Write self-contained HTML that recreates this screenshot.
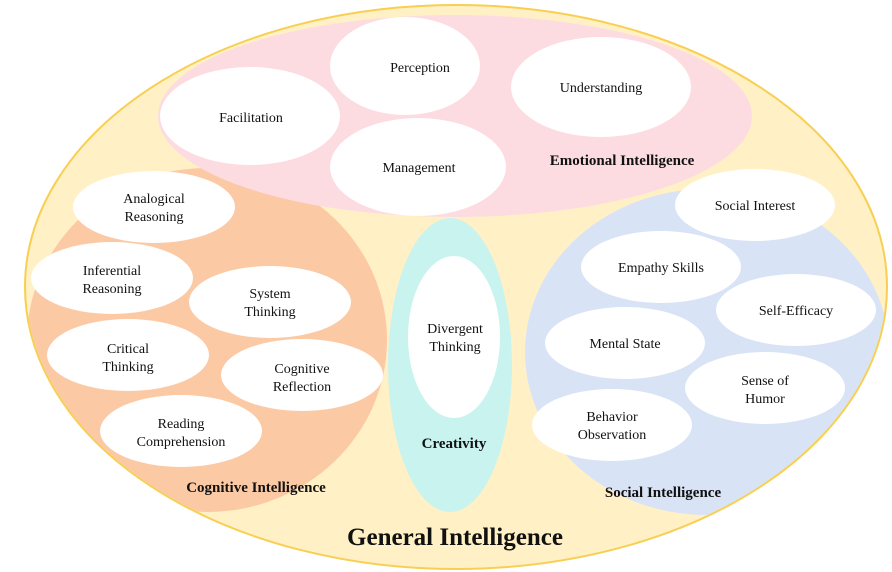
<!DOCTYPE html>
<html><head><meta charset="utf-8"><style>
html,body{margin:0;padding:0;background:#fff;}
svg{display:block;}
text{font-family:"Liberation Serif",serif;fill:#111;text-anchor:middle;}
.t{font-size:14px;}
.b{font-size:15px;font-weight:bold;}
</style></head><body>
<svg width="892" height="572" viewBox="0 0 892 572">
<defs><clipPath id="c"><ellipse cx="456" cy="287" rx="430" ry="281"/></clipPath></defs>
<ellipse cx="456" cy="287" rx="431" ry="282" fill="#fff0c6" stroke="#f8cf52" stroke-width="2"/>
<g clip-path="url(#c)">
<ellipse cx="207" cy="340" rx="180" ry="172" fill="#fbc9a4"/>
<ellipse cx="707" cy="352" rx="182" ry="163" fill="#d9e3f6"/>
</g>
<ellipse cx="455" cy="116" rx="297" ry="101" fill="#fddce1"/>
<ellipse cx="450" cy="365" rx="62" ry="147" fill="#c9f3ef"/>
<ellipse cx="454" cy="337" rx="46" ry="81" fill="#fff"/>
<g fill="#fff">
<ellipse cx="405" cy="66" rx="75" ry="49"/>
<ellipse cx="250" cy="116" rx="90" ry="49"/>
<ellipse cx="418" cy="167" rx="88" ry="49"/>
<ellipse cx="601" cy="87" rx="90" ry="50"/>
<ellipse cx="154" cy="207" rx="81" ry="36"/>
<ellipse cx="112" cy="278" rx="81" ry="36"/>
<ellipse cx="270" cy="302" rx="81" ry="36"/>
<ellipse cx="128" cy="355" rx="81" ry="36"/>
<ellipse cx="302" cy="375" rx="81" ry="36"/>
<ellipse cx="181" cy="431" rx="81" ry="36"/>
<ellipse cx="755" cy="205" rx="80" ry="36"/>
<ellipse cx="661" cy="267" rx="80" ry="36"/>
<ellipse cx="796" cy="310" rx="80" ry="36"/>
<ellipse cx="625" cy="343" rx="80" ry="36"/>
<ellipse cx="765" cy="388" rx="80" ry="36"/>
<ellipse cx="612" cy="425" rx="80" ry="36"/>
</g>
<g class="t">
<text class="t" x="420" y="72">Perception</text>
<text class="t" x="251" y="122">Facilitation</text>
<text class="t" x="419" y="172">Management</text>
<text class="t" x="601" y="92">Understanding</text>
<text class="t" x="154" y="203">Analogical</text><text class="t" x="154" y="221">Reasoning</text>
<text class="t" x="112" y="275">Inferential</text><text class="t" x="112" y="293">Reasoning</text>
<text class="t" x="270" y="298">System</text><text class="t" x="270" y="316">Thinking</text>
<text class="t" x="128" y="353">Critical</text><text class="t" x="128" y="371">Thinking</text>
<text class="t" x="302" y="373">Cognitive</text><text class="t" x="302" y="391">Reflection</text>
<text class="t" x="181" y="428">Reading</text><text class="t" x="181" y="446">Comprehension</text>
<text class="t" x="455" y="333">Divergent</text><text class="t" x="455" y="351">Thinking</text>
<text class="t" x="755" y="210">Social Interest</text>
<text class="t" x="661" y="272">Empathy Skills</text>
<text class="t" x="796" y="315">Self-Efficacy</text>
<text class="t" x="625" y="348">Mental State</text>
<text class="t" x="765" y="385">Sense of</text><text class="t" x="765" y="403">Humor</text>
<text class="t" x="612" y="421">Behavior</text><text class="t" x="612" y="439">Observation</text>
</g>
<text class="b" x="622" y="165">Emotional Intelligence</text>
<text class="b" x="256" y="492">Cognitive Intelligence</text>
<text class="b" x="663" y="497">Social Intelligence</text>
<text class="b" x="454" y="448">Creativity</text>
<text x="455" y="545" style="font-size:25px;font-weight:bold;">General Intelligence</text>
</svg>
</body></html>
